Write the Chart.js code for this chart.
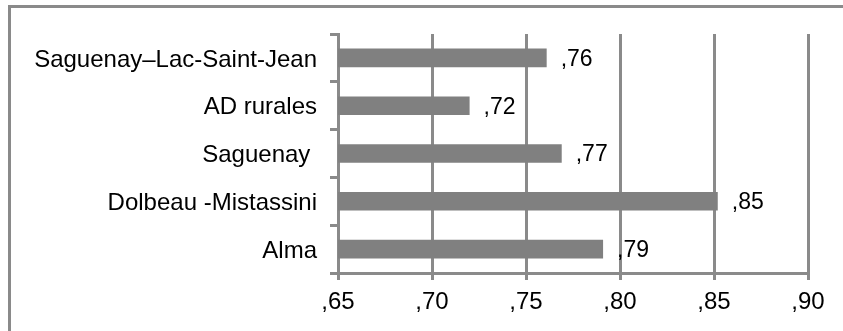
<!DOCTYPE html>
<html>
<head>
<meta charset="utf-8">
<script src="https://cdn.jsdelivr.net/npm/chart.js@4/dist/chart.umd.min.js"></script>
<style>
  html, body { margin: 0; padding: 0; background: #fff; overflow: hidden; }
  #wrap { position: relative; width: 843px; height: 331px; overflow: hidden; }
  #frame { position: absolute; left: 8px; top: 5px; width: 900px; height: 400px; border: 3px solid #8a8a8a; box-sizing: border-box; }
  #c { position: absolute; left: 0; top: 0; }
</style>
</head>
<body>
<div id="wrap">
  <div id="frame"></div>
  <canvas id="c" width="843" height="331"></canvas>
</div>
<script>
const categories = ["Saguenay\u2013Lac-Saint-Jean", "AD rurales", "Saguenay ", "Dolbeau -Mistassini", "Alma"];
const values = [0.761, 0.720, 0.769, 0.852, 0.791];
const valueLabels = [",76", ",72", ",77", ",85", ",79"];
const xTicks = [",65", ",70", ",75", ",80", ",85", ",90"];

const GRAY = '#8a8a8a';
const FONT = { family: "'Liberation Sans', Arial, sans-serif", size: 24 };

const valueLabelPlugin = {
  id: 'valueLabels',
  afterDatasetsDraw(chart) {
    const ctx = chart.ctx;
    const meta = chart.getDatasetMeta(0);
    ctx.save();
    ctx.font = "23px 'Liberation Sans', Arial, sans-serif";
    ctx.fillStyle = '#000';
    ctx.textAlign = 'left';
    ctx.textBaseline = 'middle';
    meta.data.forEach((bar, i) => {
      ctx.fillText(valueLabels[i], bar.x + 14, bar.y + 1.5);
    });
    ctx.restore();
  }
};

new Chart(document.getElementById('c'), {
  type: 'bar',
  data: {
    labels: categories,
    datasets: [{
      data: values,
      backgroundColor: '#808080',
      borderWidth: 0,
      categoryPercentage: 1,
      barPercentage: 0.39
    }]
  },
  options: {
    indexAxis: 'y',
    responsive: false,
    animation: false,
    devicePixelRatio: 1,
    layout: { padding: { top: 34, right: 35, bottom: 0, left: 0 } },
    plugins: { legend: { display: false }, tooltip: { enabled: false } },
    scales: {
      x: {
        min: 0.65, max: 0.90,
        afterFit(scale) { scale.height = 58; },
        afterBuildTicks(scale) {
          scale.ticks = xTicks.map((t, i) => ({ value: 0.65 + 0.05 * i }));
        },
        ticks: {
          color: '#000', font: FONT, padding: 8, maxRotation: 0, autoSkip: false,
          callback: (v, i) => xTicks[i]
        },
        grid: { color: GRAY, lineWidth: 3, tickLength: 7, drawTicks: true },
        border: { display: true, color: GRAY, width: 3 }
      },
      y: {
        afterFit(scale) { scale.width = 338; },
        ticks: { color: '#000', font: FONT, padding: 13, labelOffset: 2, autoSkip: false },
        grid: { color: GRAY, lineWidth: 3, tickLength: 8, drawOnChartArea: false, drawTicks: true, offset: true },
        border: { display: true, color: GRAY, width: 3 }
      }
    }
  },
  plugins: [valueLabelPlugin]
});
</script>
</body>
</html>
